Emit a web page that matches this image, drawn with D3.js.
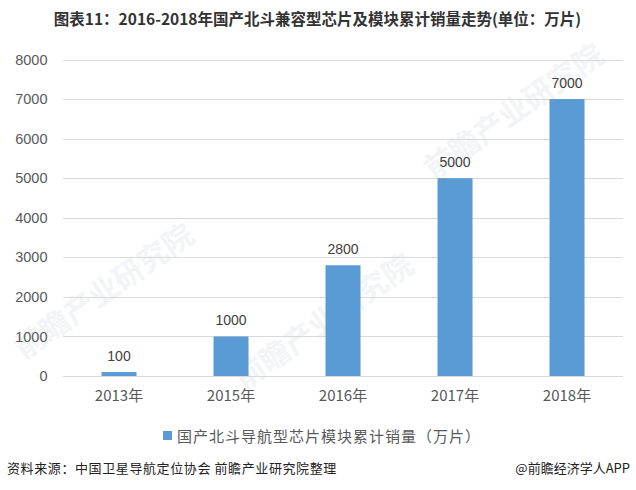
<!DOCTYPE html>
<html><head><meta charset="utf-8">
<script src="https://cdn.jsdelivr.net/npm/d3@7"></script>
<style>body{margin:0;background:#fff}svg{display:block}</style>
</head><body>
<script>
const categories = ["2013年","2015年","2016年","2017年","2018年"];
const values = [100,1000,2800,5000,7000];
const yTicks = [0,1000,2000,3000,4000,5000,6000,7000,8000];
const title = "图表11：2016-2018年国产北斗兼容型芯片及模块累计销量走势(单位：万片)";
const seriesName = "国产北斗导航型芯片模块累计销量（万片）";
const source = "资料来源：中国卫星导航定位协会 前瞻产业研究院整理";
const credit = "@前瞻经济学人APP";

(function(){
const W=636,H=490;
const font = "'Noto Sans CJK SC','Microsoft YaHei',sans-serif";
const numFont = "'Liberation Sans',Arial,sans-serif";
const svg = d3.select("body").append("svg").attr("width",W).attr("height",H);

const pLeft=63,pRight=623,pTop=59.5,pBottom=376;
const x = d3.scaleBand().domain(categories).range([pLeft,pRight]).paddingInner(0.6875).paddingOuter(0.34375);
const y = d3.scaleLinear().domain([0,8000]).range([pBottom,pTop]);

// faint watermarks
const wm = svg.append("g").attr("fill","#f2f4f6").attr("font-family",font).attr("font-weight","bold");
[[110,300],[330,330],[520,120]].forEach(([cx,cy])=>{
  wm.append("text").attr("transform",`translate(${cx},${cy}) rotate(-35)`).attr("text-anchor","middle")
    .attr("font-size",30).text("前瞻产业研究院");
});

// title
svg.append("text").attr("x",317.5).attr("y",25).attr("text-anchor","middle")
  .attr("font-family",font).attr("font-weight","bold").attr("font-size",15.5).attr("fill","#333")
  .text(title);

// grid
svg.append("g").selectAll("line").data(yTicks).join("line")
  .attr("x1",pLeft).attr("x2",pRight).attr("y1",d=>Math.round(y(d))+0.5).attr("y2",d=>Math.round(y(d))+0.5)
  .attr("stroke","#d9d9d9").attr("stroke-width",1);

// y axis labels
const yAxis = d3.axisLeft(y).tickValues(yTicks).tickSize(0).tickPadding(15.5).tickFormat(d3.format("d"));
const gy = svg.append("g").attr("transform",`translate(${pLeft},0)`).call(yAxis);
gy.select(".domain").remove();
gy.selectAll("text").attr("font-family",numFont).attr("font-size",14.5).attr("fill","#595959");

// x axis
const xAxis = d3.axisBottom(x).tickSize(0).tickPadding(14);
const gx = svg.append("g").attr("transform",`translate(0,${pBottom})`).call(xAxis);
gx.select(".domain").remove();
gx.selectAll("text").attr("font-family",font).attr("font-size",15).attr("fill","#595959");

// bars
svg.append("g").selectAll("rect").data(values).join("rect")
  .attr("x",(d,i)=>x(categories[i])).attr("width",x.bandwidth())
  .attr("y",d=>y(d)).attr("height",d=>pBottom-y(d)).attr("fill","#5b9bd5");

// axis line
svg.append("line").attr("x1",pLeft).attr("x2",pRight).attr("y1",pBottom+0.5).attr("y2",pBottom+0.5)
  .attr("stroke","#d9d9d9");

// value labels
svg.append("g").selectAll("text").data(values).join("text")
  .attr("x",(d,i)=>x(categories[i])+x.bandwidth()/2).attr("y",d=>y(d)-11)
  .attr("text-anchor","middle").attr("font-family",numFont)
  .attr("font-size",14).attr("fill","#404040").text(d=>d);

// legend
svg.append("rect").attr("x",163).attr("y",431).attr("width",9).attr("height",9).attr("fill","#5b9bd5");
svg.append("text").attr("x",177).attr("y",441.5).attr("font-family",font).attr("font-size",15)
  .attr("letter-spacing",1).attr("fill","#595959").text(seriesName);

// source
svg.append("text").attr("x",7).attr("y",473).attr("font-family",font).attr("font-size",13)
  .attr("fill","#222").attr("letter-spacing",0.6).text(source);
svg.append("text").attr("x",630).attr("y",473).attr("text-anchor","end").attr("font-family",font).attr("font-size",13)
  .attr("fill","#222").text(credit);
})();
</script>
</body></html>
